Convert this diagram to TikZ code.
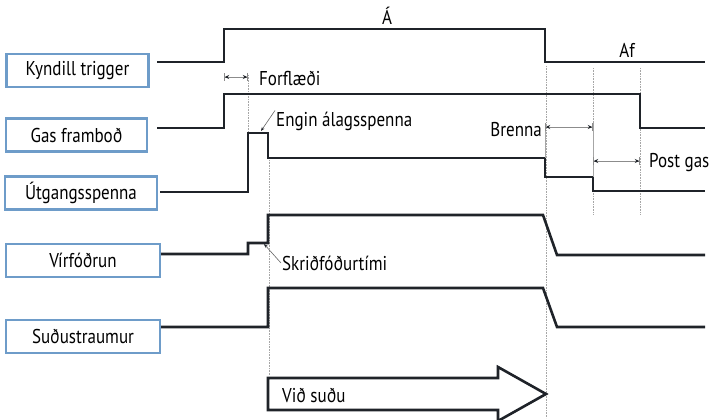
\documentclass[tikz,border=0pt]{standalone}
\usepackage{fontspec}
\setmainfont[FakeStretch=0.85]{PT Sans}
\usetikzlibrary{arrows.meta, positioning}
\definecolor{boxblue}{HTML}{6E9CC9}
\definecolor{sigdark}{HTML}{1F2329}
\tikzstyle{sigbox} = [rectangle, draw=boxblue, line width=2.4pt, minimum height=33pt, inner sep=0pt, text centered]
\tikzstyle{lbl} = [inner sep=1pt]
\tikzstyle{signal} = [draw=sigdark, line width=2.6pt, line join=miter]
\tikzstyle{guide} = [black!35, densely dotted, line width=0.6pt]
\tikzstyle{ext} = [black!35, line width=0.6pt]
\tikzstyle{dim} = [black!45, line width=0.7pt, {Bar[width=8pt,black!45] Stealth[length=4.5pt,width=4pt,sigdark]}-{Stealth[length=4.5pt,width=4pt,sigdark] Bar[width=8pt,black!45]}]
\tikzstyle{lead} = [black!60, line width=0.6pt, -{Stealth[length=4pt,width=3pt,sigdark]}]

\begin{document}
\begin{tikzpicture}[x=1pt, y=-1pt, font=\fontsize{20}{23}\selectfont]
\useasboundingbox (0,0) rectangle (710,420);

\node (kt) [sigbox, minimum width=142pt] at (77.5,70.5) {Kyndill trigger};
\node (gas) [sigbox, minimum width=141pt] at (76.5,135) {Gas framboð};
\node (utg) [sigbox, minimum width=152pt] at (81,193) {Útgangsspenna};
\node (wire) [sigbox, minimum width=154pt] at (83,260.5) {Vírfóðrun};
\node (cur) [sigbox, minimum width=154pt] at (83,336.5) {Suðustraumur};

% guide lines
\draw [guide] (248,75) -- (248,133);
\draw [guide] (269,160) -- (269,375);
\draw [guide] (546,66) -- (546,418);
\draw [guide] (593,68) -- (593,215);
\draw [guide] (640,68) -- (640,215);

% signals
\draw [signal] (157,62) -- (224,62) -- (224,29) -- (545,29) -- (545,62) -- (705,62);
\draw [signal] (157,128) -- (224,128) -- (224,94) -- (640,94) -- (640,128) -- (705,128);
\draw [signal] (160,192) -- (248,192) -- (248,133) -- (268,133) -- (268,158) -- (545,158) -- (545,177) -- (593,177) -- (593,191) -- (705,191);
\draw [signal] (161,254) -- (248,254) -- (248,243) -- (268,243) -- (268,215) -- (543,215) -- (557,255) -- (705,255);
\draw [signal] (161,327) -- (268,327) -- (268,288) -- (543,288) -- (557,327) -- (705,327);

\node (on) [lbl] at (387,16) {Á};
\node (off) [lbl] at (627,50) {Af};
\node (pre) [lbl, anchor=west] at (258,78) {Forflæði};
\node (noload) [lbl, anchor=west] at (275,121) {Engin álagsspenna};
\node (burn) [lbl, anchor=east] at (543,130) {Brenna};
\node (post) [lbl, anchor=west] at (648,163) {Post gas};
\node (creep) [lbl, anchor=west] at (281,263) {Skriðfóðurtími};

% timing marks
\draw [dim] (224,77) -- (248,77);
\draw [ext] (545,123) -- (545,158);
\draw [ext] (593,123) -- (593,177);
\draw [dim] (545,127) -- (593,127);
\draw [dim] (593,161) -- (640,161);

\coordinate (nl) at (261,131);
\coordinate (ct) at (264,244);
\draw [lead] (noload.north west) -- (nl);
\draw [lead] (creep.west) -- (ct);

% weld arrow
\draw [signal] (268,378) -- (498,378) -- (498,367) -- (546,394) -- (498,421) -- (498,410) -- (268,410) -- cycle;
\node (weld) [lbl, anchor=west] at (281,395) {Við suðu};
\end{tikzpicture}
\end{document}
